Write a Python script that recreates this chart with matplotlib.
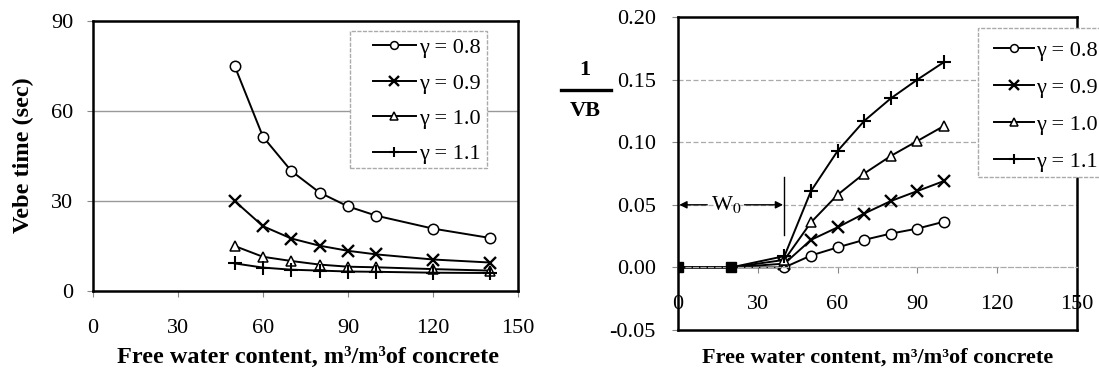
import matplotlib
matplotlib.use("Agg")
import matplotlib.pyplot as plt
from matplotlib.lines import Line2D
from matplotlib.patches import Rectangle

plt.rcParams['font.family'] = ['Liberation Serif', 'DejaVu Serif']
plt.rcParams['mathtext.fontset'] = 'stix'

# left panel: Vebe time vs water content
water_left = [50, 60, 70, 80, 90, 100, 120, 140]
vebe_08 = [75, 51.4, 40, 32.8, 28.2, 25.1, 20.8, 17.7]
vebe_09 = [30, 21.6, 17.5, 15.1, 13.4, 12.2, 10.5, 9.5]
vebe_10 = [15, 11.4, 10, 8.8, 8.1, 7.9, 7.3, 6.8]
vebe_11 = [9.2, 7.8, 7.1, 6.8, 6.5, 6.4, 6.1, 6.0]

# right panel: 1/VB vs water content
water_right = [0, 20, 40, 50, 60, 70, 80, 90, 100]
inv_08 = [0, 0, 0.0, 0.0095, 0.016, 0.022, 0.027, 0.031, 0.0365]
inv_09 = [0, 0, 0.003, 0.022, 0.032, 0.043, 0.053, 0.061, 0.069]
inv_10 = [0, 0, 0.006, 0.036, 0.058, 0.075, 0.089, 0.101, 0.113]
inv_11 = [0, 0, 0.009, 0.061, 0.093, 0.117, 0.135, 0.150, 0.164]
w0_x = [0, 20]
w0_y = [0, 0]

labels = ['γ = 0.8', 'γ = 0.9', 'γ = 1.0', 'γ = 1.1']
x_ticks = [0, 30, 60, 90, 120, 150]

styles = [
    dict(marker='o', ms=7.5, mfc='white', mew=1.1),
    dict(marker='x', ms=9, mew=1.7),
    dict(marker='^', ms=7.5, mfc='white', mew=1.1),
    dict(marker='+', ms=10, mew=1.5),
]

FS = 16
FS_LAB = 17.5
W, H = 1099, 369
fig = plt.figure(figsize=(W / 100, H / 100), dpi=100)

# ---------------- left panel ----------------
ax1 = fig.add_axes([93 / W, 1 - 291 / H, 425 / W, 270 / H])
for ys, lab, st in zip([vebe_08, vebe_09, vebe_10, vebe_11], labels, styles):
    ax1.plot(water_left, ys, color='black', lw=1.4, mec='black', label=lab, **st)
ax1.set_xlim(0, 150)
ax1.set_ylim(0, 90)
ax1.set_xticks(x_ticks)
ax1.set_yticks([0, 30, 60, 90])
for y in [30, 60]:
    ax1.axhline(y, color='#999999', lw=1.0, zorder=0)
for s in ax1.spines.values():
    s.set_linewidth(1.8)
ax1.tick_params(axis='x', direction='out', length=4, width=0.8, color='#888888', pad=16, labelsize=FS)
ax1.tick_params(axis='y', direction='out', length=4, width=0.8, color='#888888', pad=10, labelsize=FS)

ax1.add_patch(Rectangle((350 / W, 1 - 168 / H), 137 / W, 137 / H, transform=fig.transFigure,
                        fc='white', ec='#aaaaaa', lw=1.0, ls=(0, (3, 1)), clip_on=False, zorder=4))
leg1 = ax1.legend(loc='upper left', bbox_to_anchor=(357 / W, 1 - 22 / H), bbox_transform=fig.transFigure,
                  frameon=False, fontsize=FS, handlelength=1.95, handletextpad=0.15,
                  labelspacing=0.67, borderpad=0.2, markerscale=0.75)

fig.text(23 / W, 1 - 155 / H, 'Vebe time (sec)', rotation=90, ha='center', va='center',
         fontsize=FS_LAB, fontweight='bold')
fig.text(308 / W, 1 - 363 / H, 'Free water content, m³/m³of concrete', ha='center', va='baseline',
         fontsize=FS_LAB, fontweight='bold')

# ---------------- right panel ----------------
ax2 = fig.add_axes([678 / W, 1 - 330 / H, 399 / W, 313 / H])
for ys, lab, st in zip([inv_08, inv_09, inv_10, inv_11], labels, styles):
    ax2.plot(water_right, ys, color='black', lw=1.4, mec='black', label=lab,
             markevery=list(range(2, len(water_right))), **st)
ax2.plot(w0_x, w0_y, ls='none', marker='s', ms=7, color='black', zorder=5)
ax2.set_xlim(0, 150)
ax2.set_ylim(-0.05, 0.20)
ax2.set_xticks(x_ticks)
ax2.set_yticks([-0.05, 0.0, 0.05, 0.10, 0.15, 0.20])
ax2.set_yticklabels(['-0.05', '0.00', '0.05', '0.10', '0.15', '0.20'])
for y in [0.05, 0.10, 0.15]:
    ax2.axhline(y, color='#aaaaaa', lw=0.9, ls=(0, (4, 2)), zorder=0)
for s in ax2.spines.values():
    s.set_linewidth(1.8)
ax2.spines['bottom'].set_position(('data', 0))
ax2.spines['bottom'].set_color('#aaaaaa')
ax2.spines['bottom'].set_linewidth(0.9)
ax2.spines['bottom'].set_linestyle((0, (4, 2)))
ax2.axhline(-0.05, color='black', lw=1.8, clip_on=False)
ax2.tick_params(axis='x', direction='out', length=4, width=0.8, color='#888888', pad=16, labelsize=FS)
ax2.tick_params(axis='y', direction='out', length=4, width=0.8, color='#888888', pad=12, labelsize=FS)

# W0 annotation
ax2.plot([40, 40], [0.026, 0.072], color='black', lw=1.0)
arrow = dict(arrowstyle='-|>', color='black', lw=1.0, mutation_scale=11, shrinkA=0, shrinkB=0)
ax2.annotate('', xy=(0.5, 0.05), xytext=(11, 0.05), arrowprops=arrow)
ax2.annotate('', xy=(39.5, 0.05), xytext=(25, 0.05), arrowprops=arrow)
ax2.text(18, 0.05, r'W$_0$', ha='center', va='center', fontsize=FS)

ax2.add_patch(Rectangle((978 / W, 1 - 177 / H), 140 / W, 149 / H, transform=fig.transFigure,
                        fc='white', ec='#aaaaaa', lw=1.0, ls=(0, (3, 1)), clip_on=False, zorder=4))
leg2 = ax2.legend(loc='upper left', bbox_to_anchor=(978 / W, 1 - 25 / H), bbox_transform=fig.transFigure,
                  frameon=False, fontsize=FS, handlelength=1.8, handletextpad=0.1,
                  labelspacing=0.74, borderpad=0.2, markerscale=0.75)

# 1/VB label
fig.text(585 / W, 1 - 70 / H, '1', ha='center', va='center', fontsize=FS, fontweight='bold')
fig.text(585 / W, 1 - 111 / H, 'VB', ha='center', va='center', fontsize=FS, fontweight='bold')
fig.add_artist(Line2D([561 / W, 611 / W], [1 - 90 / H, 1 - 90 / H], color='black', lw=2.4,
                      transform=fig.transFigure))
fig.text(878 / W, 1 - 363 / H, 'Free water content, m³/m³of concrete', ha='center', va='baseline',
         fontsize=FS, fontweight='bold')

fig.savefig('out.png', dpi=100)
